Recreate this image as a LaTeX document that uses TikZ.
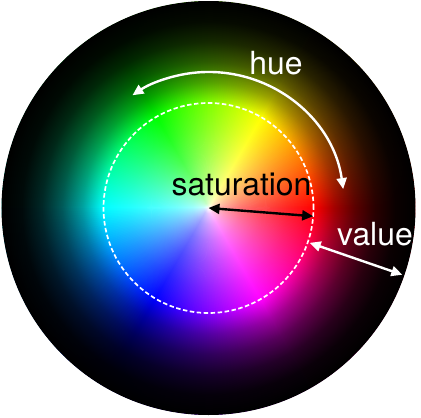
\documentclass[tikz,border=0pt]{standalone}
\usepackage{fontspec}
\setmainfont{TeX Gyre Heros}
\usepackage{tikz}
\usetikzlibrary{arrows.meta}
\def\rIn{105}
\def\rOut{206.5}
% white centre fading out at the dashed circle; value falling off outside it
\pgfdeclareradialshading{satshade}{\pgfpoint{0bp}{0bp}}{%
  rgb(0bp)=(1,1,1); rgb(1.25bp)=(0.776,0.776,0.776);
  rgb(3.75bp)=(0.613,0.613,0.613); rgb(7.5bp)=(0.452,0.452,0.452);
  rgb(12.5bp)=(0.293,0.293,0.293); rgb(18.75bp)=(0.134,0.134,0.134);
  rgb(25bp)=(0,0,0); rgb(50bp)=(0,0,0)}
\pgfdeclareradialshading{valshade}{\pgfpoint{0bp}{0bp}}{%
  rgb(0bp)=(1,1,1); rgb(12.71bp)=(1,1,1);
  rgb(15.17bp)=(0.64,0.64,0.64); rgb(17.63bp)=(0.36,0.36,0.36);
  rgb(20.08bp)=(0.16,0.16,0.16); rgb(22.54bp)=(0.04,0.04,0.04);
  rgb(25bp)=(0,0,0); rgb(50bp)=(0,0,0)}
\tikzset{
  lbl/.style ={font=\fontsize{32}{38}\selectfont,inner sep=0pt,anchor=base},
  arw/.style ={{Triangle[length=11bp,width=10bp]}-{Triangle[length=11bp,width=10bp]},
               line width=2.4bp},
  rim/.style ={draw=white,line width=1.7bp,dash pattern=on 4.5bp off 2.5bp},
}

\begin{document}
\begin{tikzpicture}[x=1bp, y=1bp]

\useasboundingbox[fill=white] (-208.5,-210) rectangle (212.5,208);
\coordinate (c) at (0,0);

% --- wheel: pure hues round the centre -------------------------------------
\foreach \a in {0,...,359}{
  \convertcolorspec{Hsb}{\a,1,1}{rgb}\huergb
  \definecolor{huec}{rgb}{\huergb}
  \filldraw[fill=huec,draw=huec,line width=0.4bp,line join=round]
    (c) -- (\a-0.7:\rOut) arc[start angle=\a-0.7,end angle=\a+0.7,radius=\rOut] -- cycle;
}
% saturation: screen with white at the centre
\begin{scope}[blend mode=screen]
  \shade[shading=satshade] (c) circle[radius=\rIn];
\end{scope}
% value: multiply down to black at the rim
\begin{scope}[blend mode=multiply]
  \shade[shading=valshade] (c) circle[radius=\rOut+0.5];
\end{scope}
\draw[rim] (c) circle[radius=\rIn];

% --- hue -------------------------------------------------------------------
\coordinate (h1) at (8:136);
\draw[arw,white] (h1) arc[start angle=8,end angle=124,radius=136];
\node[lbl,text=white] (hue) at (67.5,134) {hue};

% --- saturation --------------------------------------------------------------
\coordinate (s2) at (-4.5:105);
\draw[arw,black] (c) -- (s2);
\node[lbl] (sat) at (33,13) {saturation};

% --- value -----------------------------------------------------------------
\coordinate (v1) at (-19:107);
\coordinate (v2) at (-19:205);
\draw[arw,white] (v1) -- (v2);
\node[lbl,text=white] (val) at (166.5,-37) {value};

\end{tikzpicture}
\end{document}
